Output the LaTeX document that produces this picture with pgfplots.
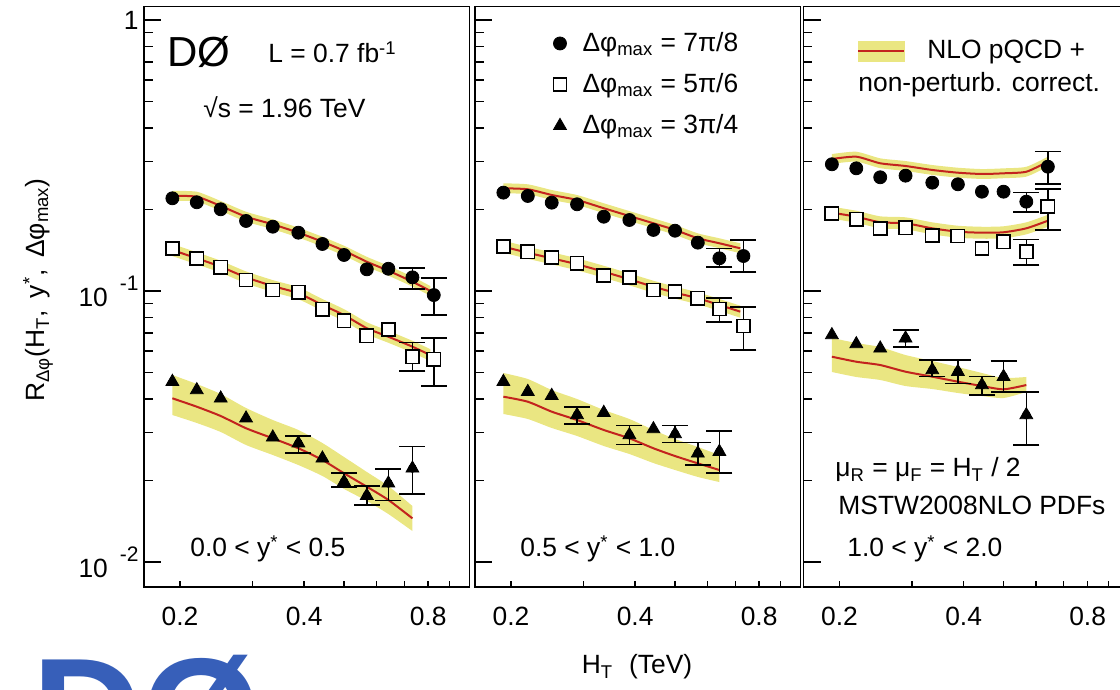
\documentclass[border=0pt]{standalone}
\usepackage{fontspec}
\setmainfont{Liberation Sans}
\usepackage{pgfplots}
\usepackage{pgfplotstable}
\usepgfplotslibrary{fillbetween}
\pgfplotsset{compat=1.18}

\definecolor{bandc}{RGB}{234,230,130}
\definecolor{nlored}{RGB}{195,35,30}
\definecolor{logoblue}{RGB}{55,95,185}

\newcommand{\fs}{\fontsize{13.2}{15.8}\selectfont}
\newcommand{\sbs}[1]{\textsubscript{#1}}
\newcommand{\sps}[1]{\textsuperscript{#1}}

% NLO bands: x  y(central)  lo  hi
\pgfplotstableread{
x y lo hi
0.1916 0.2242 0.2150 0.2339
0.2196 0.2228 0.2137 0.2324
0.2510 0.2059 0.1975 0.2148
0.2892 0.1880 0.1803 0.1961
0.3358 0.1762 0.1690 0.1838
0.3875 0.1641 0.1574 0.1712
0.4431 0.1520 0.1458 0.1585
0.5000 0.1408 0.1350 0.1469
0.5679 0.1282 0.1229 0.1337
0.6406 0.1188 0.1139 0.1239
0.7328 0.1082 0.1038 0.1129
0.8100 0.1000 0.0959 0.1043
}\pOneA
\pgfplotstableread{
x y lo hi
0.1916 0.1416 0.1345 0.1490
0.2196 0.1320 0.1254 0.1389
0.2510 0.1229 0.1168 0.1293
0.2892 0.1123 0.1067 0.1181
0.3358 0.1043 0.0991 0.1097
0.3875 0.0981 0.0932 0.1032
0.4431 0.0888 0.0844 0.0934
0.5000 0.0815 0.0774 0.0857
0.5679 0.0729 0.0693 0.0767
0.6406 0.0678 0.0644 0.0713
0.7328 0.0623 0.0592 0.0655
0.8100 0.0580 0.0551 0.0610
}\pOneB
\pgfplotstableread{
x y lo hi
0.1916 0.04018 0.03487 0.04898
0.2196 0.03741 0.03258 0.04537
0.2510 0.03457 0.03018 0.04167
0.2892 0.03115 0.02702 0.03701
0.3358 0.02860 0.02482 0.03342
0.3875 0.02628 0.02279 0.03070
0.4431 0.02379 0.02077 0.02748
0.5000 0.02125 0.01860 0.02440
0.5679 0.01896 0.01680 0.02149
0.6406 0.01694 0.01503 0.01907
0.7328 0.01449 0.01301 0.01609
}\pOneC
\pgfplotstableread{
x y lo hi
0.1916 0.2393 0.2295 0.2496
0.2196 0.2373 0.2276 0.2475
0.2510 0.2261 0.2168 0.2358
0.2892 0.2167 0.2078 0.2260
0.3358 0.2020 0.1937 0.2107
0.3875 0.1891 0.1813 0.1972
0.4431 0.1778 0.1705 0.1854
0.5000 0.1680 0.1611 0.1752
0.5679 0.1565 0.1501 0.1632
0.6406 0.1500 0.1439 0.1565
0.7200 0.1437 0.1378 0.1499
}\pTwoA
\pgfplotstableread{
x y lo hi
0.1916 0.1457 0.1384 0.1533
0.2196 0.1384 0.1315 0.1456
0.2510 0.1320 0.1254 0.1389
0.2892 0.1255 0.1192 0.1320
0.3358 0.1178 0.1119 0.1239
0.3875 0.1104 0.1049 0.1161
0.4431 0.1037 0.0985 0.1091
0.5000 0.0986 0.0937 0.1037
0.5679 0.0940 0.0893 0.0989
0.6406 0.0888 0.0844 0.0934
0.7200 0.0839 0.0797 0.0883
}\pTwoB
\pgfplotstableread{
x y lo hi
0.1916 0.04074 0.03517 0.04982
0.2196 0.03904 0.03370 0.04734
0.2510 0.03587 0.03123 0.04311
0.2892 0.03342 0.02917 0.03995
0.3358 0.03070 0.02679 0.03639
0.3875 0.02860 0.02503 0.03370
0.4431 0.02628 0.02318 0.03070
0.5000 0.02460 0.02185 0.02844
0.5679 0.02312 0.02060 0.02657
0.6406 0.02185 0.01973 0.02482
}\pTwoC
\pgfplotstableread{
x y lo hi
0.1916 0.3069 0.2943 0.3201
0.2196 0.3130 0.3002 0.3265
0.2510 0.2960 0.2839 0.3087
0.2892 0.2892 0.2773 0.3016
0.3358 0.2796 0.2681 0.2916
0.3875 0.2732 0.2620 0.2850
0.4431 0.2702 0.2591 0.2818
0.5000 0.2718 0.2607 0.2835
0.5679 0.2755 0.2642 0.2873
0.6406 0.3000 0.2877 0.3129
}\pThreeA
\pgfplotstableread{
x y lo hi
0.1916 0.1945 0.1848 0.2046
0.2196 0.1880 0.1786 0.1978
0.2510 0.1793 0.1703 0.1886
0.2892 0.1778 0.1689 0.1870
0.3358 0.1703 0.1618 0.1792
0.3875 0.1655 0.1572 0.1741
0.4431 0.1641 0.1559 0.1726
0.5000 0.1647 0.1565 0.1733
0.5679 0.1703 0.1618 0.1792
0.6406 0.1817 0.1726 0.1911
}\pThreeB
\pgfplotstableread{
x y lo hi
0.1916 0.05722 0.05025 0.06709
0.2196 0.05483 0.04816 0.06428
0.2510 0.05331 0.04694 0.06213
0.2892 0.05037 0.04460 0.05803
0.3358 0.04828 0.04348 0.05516
0.3875 0.04627 0.04203 0.05243
0.4431 0.04460 0.04097 0.04982
0.5000 0.04337 0.04028 0.04775
0.5679 0.04498 0.04239 0.04816
}\pThreeC

\newcommand{\band}[2]{%
  \addplot[draw=none, forget plot, smooth, tension=0.4, name path=h#2] table[x=x,y=hi]{#1};
  \addplot[draw=none, forget plot, smooth, tension=0.4, name path=l#2] table[x=x,y=lo]{#1};
  \addplot[fill=bandc, draw=none, forget plot] fill between[of=h#2 and l#2];
}
\newcommand{\nlo}[1]{%
  \addplot[nlored, line width=1pt, smooth, tension=0.4, forget plot] table[x=x,y=y]{#1};
}

% global axis settings
\pgfplotsset{
  scale only axis,
  width=162.75pt, height=290.25pt,
  xmin=0.1635, xmax=1.008, ymin=0.008087, ymax=1.1215,
  axis line style={line width=0.9pt, black},
  tick style={line width=0.7pt, black},
  tick align=inside, xtick pos=bottom, ytick pos=left,
  major tick length=8.8pt, minor tick length=4.5pt,
  xtick style={/pgfplots/major tick length=3pt, /pgfplots/minor tick length=3pt},
  xtick={0.2,0.3,0.4,0.5,0.6,0.7,0.8,0.9},
  xticklabels={0.2,,0.4,,,,0.8,},
  ytick={0.01,0.1,1},
  xticklabel style={font=\fs, inner sep=0pt, anchor=north, yshift=-10pt},
  yticklabel style={font=\fs, inner sep=0pt, anchor=east, xshift=-2.5pt},
}

\begin{document}
\begin{tikzpicture}
% ---------------- panel 1 ----------------
\begin{loglogaxis}[at={(72pt,51.5pt)}, anchor=south west,
  yticklabels={{10\hspace{6pt}\raisebox{8pt}{\fontsize{10.5}{12}\selectfont -2}},
               {10\hspace{6pt}\raisebox{8pt}{\fontsize{10.5}{12}\selectfont -1}},
               {1\hspace{11pt}}}]
\band{\pOneA}{a}\band{\pOneB}{b}\band{\pOneC}{c}
\nlo{\pOneA}\nlo{\pOneB}\nlo{\pOneC}
\addplot[only marks, mark=none, black, forget plot,
  error bars/.cd, y dir=both, y explicit,
  error bar style={line width=0.8pt, black},
  error mark options={rotate=90, mark size=6.5pt, line width=0.8pt, black}]
  coordinates {(0.7328,0.1123) += (0,0.0093) -= (0,0.0106)
  (0.8256,0.0966) += (0,0.0151) -= (0,0.0151)
  (0.7328,0.0572) += (0,0.0073) -= (0,0.0064)
  (0.8256,0.0560) += (0,0.0111) -= (0,0.0114)
  (0.3875,0.02742) += (0,0.00175) -= (0,0.00211)
  (0.5000,0.01978) += (0,0.00147) -= (0,0.00082)
  (0.5679,0.01757) += (0,0.00155) -= (0,0.00134)
  (0.6406,0.01952) += (0,0.00251) -= (0,0.00268)
  (0.7328,0.02216) += (0,0.00448) -= (0,0.00438)};
\addplot[only marks, mark=*, mark size=3.25pt, black] coordinates {(0.1916,0.2198) (0.2196,0.2125) (0.2510,0.2002) (0.2892,0.1813)
  (0.3358,0.1727) (0.3875,0.1641) (0.4431,0.1491) (0.5000,0.1358) (0.5679,0.1202)
  (0.6406,0.1208) (0.7328,0.1123) (0.8256,0.0966)};
\addplot[only marks, mark=square*, mark size=3.3pt, mark options={fill=white, draw=black, line width=0.8pt}] coordinates {(0.1916,0.1437) (0.2196,0.1320) (0.2510,0.1223) (0.2892,0.1098)
  (0.3358,0.1009) (0.3875,0.0989) (0.4431,0.0856) (0.5000,0.0777) (0.5679,0.0684)
  (0.6406,0.0722) (0.7328,0.0572) (0.8256,0.0560)};
\addplot[only marks, mark=triangle*, mark size=3.7pt, black] coordinates {(0.1916,0.04627) (0.2196,0.04311) (0.2510,0.04018) (0.2892,0.03391)
  (0.3358,0.02885) (0.3875,0.02742) (0.4431,0.02413) (0.5000,0.01978) (0.5679,0.01757)
  (0.6406,0.01952) (0.7328,0.02216)};
\end{loglogaxis}
% ---------------- panel 2 ----------------
\begin{loglogaxis}[at={(237.5pt,51.5pt)}, anchor=south west, yticklabels={,,},
  legend style={at={(axis description cs:0.2396,0.9595)}, anchor=north west,
    draw=none, fill=none, inner sep=0pt, font=\fs, row sep=7.5pt, column sep=7pt,
    nodes={inner sep=1pt}},
  legend cell align=left]
\band{\pTwoA}{a}\band{\pTwoB}{b}\band{\pTwoC}{c}
\nlo{\pTwoA}\nlo{\pTwoB}\nlo{\pTwoC}
\addplot[only marks, mark=none, black, forget plot,
  error bars/.cd, y dir=both, y explicit,
  error bar style={line width=0.8pt, black},
  error mark options={rotate=90, mark size=6.5pt, line width=0.8pt, black}]
  coordinates {(0.6406,0.1320) += (0,0.0117) -= (0,0.0091)
  (0.7328,0.1346) += (0,0.0196) -= (0,0.0168)
  (0.6406,0.0858) += (0,0.0082) -= (0,0.0088)
  (0.7328,0.0743) += (0,0.0132) -= (0,0.0137)
  (0.2892,0.03487) += (0,0.00254) -= (0,0.00257)
  (0.3875,0.02942) += (0,0.00242) -= (0,0.00224)
  (0.5000,0.02967) += (0,0.00217) -= (0,0.00202)
  (0.5679,0.02518) += (0,0.00247) -= (0,0.00239)
  (0.6406,0.02553) += (0,0.00491) -= (0,0.00428)};
\addplot[only marks, mark=*, mark size=3.25pt, black] coordinates {(0.1916,0.2306) (0.2196,0.2242) (0.2510,0.2118) (0.2892,0.2089)
  (0.3358,0.1880) (0.3875,0.1828) (0.4431,0.1680) (0.5000,0.1669) (0.5679,0.1508)
  (0.6406,0.1320) (0.7328,0.1346)};
\addlegendentry{Δφ\sbs{max} = 7π/8}
\addplot[only marks, mark=square*, mark size=3.3pt, mark options={fill=white, draw=black, line width=0.8pt}] coordinates {(0.1916,0.1457) (0.2196,0.1396) (0.2510,0.1327) (0.2892,0.1266)
  (0.3358,0.1139) (0.3875,0.1120) (0.4431,0.1009) (0.5000,0.0994) (0.5679,0.0940)
  (0.6406,0.0858) (0.7328,0.0743)};
\addlegendentry{Δφ\sbs{max} = 5π/6}
\addplot[only marks, mark=triangle*, mark size=3.7pt, black] coordinates {(0.1916,0.04627) (0.2196,0.04250) (0.2510,0.04108) (0.2892,0.03487)
  (0.3358,0.03556) (0.3875,0.02942) (0.4431,0.03096) (0.5000,0.02967) (0.5679,0.02518)
  (0.6406,0.02553)};
\addlegendentry{Δφ\sbs{max} = 3π/4}
\end{loglogaxis}
% ---------------- panel 3 ----------------
\begin{loglogaxis}[at={(401.75pt,51.5pt)}, anchor=south west, yticklabels={,,},
  legend style={at={(axis description cs:0.164,0.9457)}, anchor=north west,
    draw=none, fill=none, inner sep=0pt, font=\fs, column sep=10pt,
    nodes={inner sep=1pt}},
  legend cell align=left]
\addlegendimage{legend image code/.code={\fill[bandc] (0pt,-5pt) rectangle (23pt,5pt);
  \draw[nlored, line width=1pt] (0pt,0pt) -- (23pt,0pt);}}
\addlegendentry{NLO pQCD +}
\band{\pThreeA}{a}\band{\pThreeB}{b}\band{\pThreeC}{c}
\nlo{\pThreeA}\nlo{\pThreeB}\nlo{\pThreeC}
\addplot[only marks, mark=none, black, forget plot,
  error bars/.cd, y dir=both, y explicit,
  error bar style={line width=0.8pt, black},
  error mark options={rotate=90, mark size=6.5pt, line width=0.8pt, black}]
  coordinates {(0.5679,0.2136) += (0,0.0170) -= (0,0.0184)
  (0.6406,0.2875) += (0,0.0391) -= (0,0.0399)
  (0.5679,0.1396) += (0,0.0155) -= (0,0.0149)
  (0.6406,0.2047) += (0,0.0332) -= (0,0.0367)
  (0.2892,0.06690) += (0,0.0049) -= (0,0.00462)
  (0.3358,0.05110) += (0,0.00454) -= (0,0.00282)
  (0.3875,0.05037) += (0,0.00527) -= (0,0.00473)
  (0.4431,0.04498) += (0,0.0033) -= (0,0.00366)
  (0.5000,0.04828) += (0,0.00688) -= (0,0.00578)
  (0.5679,0.03487) += (0,0.00763) -= (0,0.00785)};
\addplot[only marks, mark=*, mark size=3.25pt, black, forget plot] coordinates {(0.1916,0.2935) (0.2196,0.2836) (0.2510,0.2628) (0.2892,0.2664)
  (0.3358,0.2510) (0.3875,0.2476) (0.4431,0.2325) (0.5000,0.2325) (0.5679,0.2136)
  (0.6406,0.2875)};
\addplot[only marks, mark=square*, mark size=3.3pt, mark options={fill=white, draw=black, line width=0.8pt}, forget plot] coordinates {(0.1916,0.1935) (0.2196,0.1839) (0.2510,0.1703) (0.2892,0.1712)
  (0.3358,0.1600) (0.3875,0.1596) (0.4431,0.1437) (0.5000,0.1520) (0.5679,0.1396)
  (0.6406,0.2047)};
\addplot[only marks, mark=triangle*, mark size=3.7pt, black, forget plot] coordinates {(0.1916,0.06882) (0.2196,0.06373) (0.2510,0.06145) (0.2892,0.06690)
  (0.3358,0.05110) (0.3875,0.05037) (0.4431,0.04498) (0.5000,0.04828) (0.5679,0.03487)};
\end{loglogaxis}
% ---------------- texts ----------------
\node[font=\fontsize{21}{24}\selectfont] at (99.5pt,319pt) {DØ};
\node[font=\fs, anchor=base west, inner sep=0pt] at (134pt,313.5pt) {L = 0.7 fb\sps{-1}};
\node[font=\fs, anchor=base west, inner sep=0pt] at (101.5pt,286pt) {√s = 1.96 TeV};
\node[font=\fs, anchor=base west, inner sep=0pt] at (95pt,66.5pt) {0.0 < y\sps{*} < 0.5};
\node[font=\fs, anchor=base west, inner sep=0pt] at (260pt,66.5pt) {0.5 < y\sps{*} < 1.0};
\node[font=\fs, anchor=base west, inner sep=0pt] at (423.5pt,66.5pt) {1.0 < y\sps{*} < 2.0};
\node[font=\fs, anchor=base west, inner sep=0pt] at (417.5pt,106.5pt) {μ\sbs{R} = μ\sbs{F} = H\sbs{T} / 2};
\node[font=\fs, anchor=base west, inner sep=0pt] at (419pt,87.5pt) {MSTW2008NLO PDFs};
\node[font=\fs, anchor=base west, inner sep=0pt] at (429pt,299pt) {non-perturb. correct.};
\node[font=\fs, rotate=90] at (19pt,200pt) {R\sbs{Δφ}(H\sbs{T}, \,y\sps{*}, \,Δφ\sbs{max})};
\node[font=\fs] at (318.5pt,11.5pt) {H\sbs{T}\hspace{8pt}(TeV)};
\node[font=\bfseries\fontsize{76}{86}\selectfont, text=logoblue, anchor=north west, inner sep=0pt] at (16pt,17.5pt) {DØ};
\pgfresetboundingbox
\useasboundingbox (0pt,0pt) rectangle (560pt,345pt);
\end{tikzpicture}
\end{document}
